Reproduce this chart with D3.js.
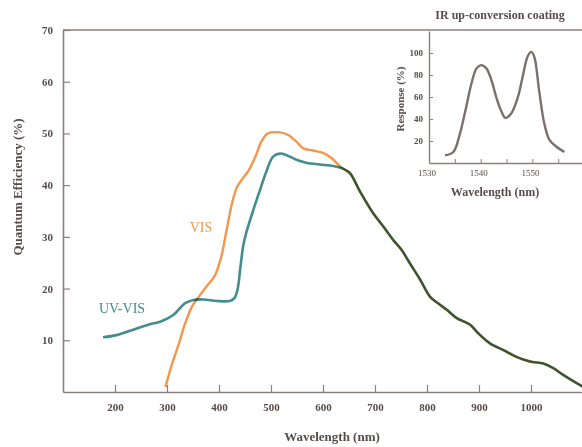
<!DOCTYPE html>
<html>
<head>
<meta charset="utf-8">
<script src="https://cdn.jsdelivr.net/npm/d3@7"></script>
<style>
  html, body { margin: 0; padding: 0; background: #fff; }
  svg { display: block; }
  text { font-family: "Liberation Serif", "DejaVu Serif", serif; fill: #564c4a; }
</style>
</head>
<body>
<svg id="chart" width="582" height="447"></svg>
<script>
// Quantum efficiency spectra (wavelength in nm, QE in %)
const uvvisWavelength = [177, 203, 242, 267, 287, 312, 335, 351, 370, 396, 421, 430, 436, 441, 447, 453, 466, 479, 492, 504, 517, 530, 549, 569, 594, 620, 636, 652, 671, 697, 716, 735, 751, 767, 787, 806, 822, 838, 857, 883, 899, 921, 947, 972, 998, 1024, 1043, 1062, 1088, 1100];
const uvvisQE = [10.6, 11.0, 12.3, 13.1, 13.6, 14.9, 17.2, 17.8, 17.9, 17.6, 17.6, 18.2, 20.0, 24.0, 28.5, 31.0, 35.2, 39.1, 42.9, 45.5, 46.1, 45.8, 44.9, 44.3, 44.0, 43.7, 43.3, 42.3, 38.8, 34.5, 32.0, 29.4, 27.5, 24.9, 21.7, 18.4, 17.1, 15.9, 14.3, 13.0, 11.3, 9.4, 8.1, 6.8, 5.9, 5.5, 4.6, 3.3, 1.7, 1.0];

const visWavelength = [297, 310, 323, 335, 348, 361, 376, 392, 404, 414, 424, 434, 445, 458, 470, 482, 494, 517, 533, 549, 562, 581, 601, 617, 633, 645, 652, 671, 697, 716, 735, 751, 767, 787, 806, 822, 838, 857, 883, 899, 921, 947, 972, 998, 1024, 1043, 1062, 1088, 1100];
const visQE = [1.0, 5.5, 9.4, 13.3, 16.5, 18.4, 20.4, 22.5, 26.0, 31.0, 36.0, 39.5, 41.2, 43.0, 45.5, 48.5, 50.0, 50.2, 49.7, 48.4, 47.1, 46.7, 46.2, 45.2, 43.6, 42.8, 42.3, 38.8, 34.5, 32.0, 29.4, 27.5, 24.9, 21.7, 18.4, 17.1, 15.9, 14.3, 13.0, 11.3, 9.4, 8.1, 6.8, 5.9, 5.5, 4.6, 3.3, 1.7, 1.0];

// IR up-conversion coating response (wavelength in nm, response in %)
const irWavelength = [1533.1, 1534.7, 1536.0, 1537.2, 1538.2, 1539.2, 1540.1, 1541.1, 1542.1, 1543.0, 1544.0, 1544.8, 1545.9, 1547.2, 1548.1, 1549.1, 1549.8, 1550.4, 1551.3, 1552.3, 1553.3, 1554.6, 1556.2];
const irResponse = [7, 10, 27, 51, 72, 86, 89, 86, 75, 60, 47, 41, 45, 60, 78, 97, 101, 96, 66, 36, 21, 15, 10];

// Tick values
const mainXTicks = [200, 300, 400, 500, 600, 700, 800, 900, 1000];
const mainYTicks = [10, 20, 30, 40, 50, 60, 70];
const insetXTicks = [1535, 1540, 1545, 1550, 1555];
const insetXLabels = [1530, 1540, 1550];
const insetYTicks = [20, 40, 60, 80, 100];

const axisColor = "#8c7f7c";
const tealColor = "#438d90";
const orangeColor = "#f2984c";

const svg = d3.select("#chart");

// ---------- main plot ----------
const x = d3.scaleLinear().domain([100, 1100]).range([63, 583]);
const y = d3.scaleLinear().domain([0, 70]).range([392, 30]);

const xAxis = svg.append("g")
  .attr("transform", `translate(0,${y(0)})`)
  .call(d3.axisBottom(x).tickValues(mainXTicks).tickFormat(d3.format("d"))
    .tickSize(-7).tickSizeOuter(0).tickPadding(11));
const yAxis = svg.append("g")
  .attr("transform", `translate(${x(100)},0)`)
  .call(d3.axisLeft(y).tickValues(mainYTicks).tickSize(-7).tickSizeOuter(0).tickPadding(10));

[xAxis, yAxis].forEach(g => {
  g.select(".domain").attr("stroke", axisColor).attr("stroke-width", 1.6);
  g.selectAll(".tick line").attr("stroke", axisColor).attr("stroke-width", 1.2);
  g.selectAll(".tick text")
    .attr("font-family", "Liberation Serif")
    .attr("font-size", 11)
    .attr("font-weight", "bold")
    .attr("fill", "#665c5a");
});

// top frame line
svg.append("line")
  .attr("x1", x(100)).attr("x2", 582)
  .attr("y1", y(70)).attr("y2", y(70))
  .attr("stroke", axisColor).attr("stroke-width", 1.6);

// axis titles
svg.append("text")
  .attr("x", 332).attr("y", 441)
  .attr("text-anchor", "middle")
  .attr("font-size", 13).attr("font-weight", "bold")
  .text("Wavelength (nm)");
svg.append("text")
  .attr("transform", "translate(22,187) rotate(-90)")
  .attr("text-anchor", "middle")
  .attr("font-size", 13).attr("font-weight", "bold")
  .text("Quantum Efficiency (%)");

const line = d3.line()
  .x(d => x(d[0]))
  .y(d => y(d[1]))
  .curve(d3.curveCatmullRom.alpha(0.5));

const uvvis = d3.zip(uvvisWavelength, uvvisQE);
const vis = d3.zip(visWavelength, visQE);

svg.append("path")
  .datum(uvvis)
  .attr("fill", "none")
  .attr("stroke", tealColor)
  .attr("stroke-width", 2.6)
  .attr("stroke-linejoin", "round")
  .attr("d", line);

// where the two spectra coincide the strokes overprint
svg.append("path")
  .datum(vis)
  .attr("fill", "none")
  .attr("stroke", orangeColor)
  .attr("stroke-width", 2.4)
  .attr("stroke-linejoin", "round")
  .style("mix-blend-mode", "multiply")
  .attr("d", line);

// series labels
svg.append("text")
  .attr("x", 122).attr("y", 313)
  .attr("text-anchor", "middle")
  .attr("font-size", 14)
  .style("fill", tealColor)
  .text("UV-VIS");
svg.append("text")
  .attr("x", 201).attr("y", 232)
  .attr("text-anchor", "middle")
  .attr("font-size", 14)
  .style("fill", orangeColor)
  .text("VIS");

// ---------- inset: IR up-conversion coating ----------
const ix = d3.scaleLinear().domain([1530, 1559.6]).range([429, 582]);
const iy = d3.scaleLinear().domain([0, 120]).range([163, 31]);

const ixAxis = svg.append("g")
  .attr("transform", `translate(0,${iy(0)})`)
  .call(d3.axisBottom(ix).tickValues(insetXTicks).tickSize(-4).tickSizeOuter(0).tickFormat(() => ""));
svg.append("g")
  .selectAll("text")
  .data(insetXLabels)
  .join("text")
  .attr("x", d => ix(d) - 2)
  .attr("y", iy(0) + 13)
  .attr("text-anchor", "middle")
  .attr("font-size", 9)
  .attr("fill", "#665c5a")
  .text(d => d);

const iyAxis = svg.append("g")
  .attr("transform", `translate(${ix(1530)},0)`)
  .call(d3.axisLeft(iy).tickValues(insetYTicks).tickSize(-4).tickSizeOuter(0).tickPadding(6));

[ixAxis, iyAxis].forEach(g => {
  g.select(".domain").attr("stroke", axisColor).attr("stroke-width", 1.4);
  g.selectAll(".tick line").attr("stroke", axisColor).attr("stroke-width", 1);
  g.selectAll(".tick text")
    .attr("font-family", "Liberation Serif")
    .attr("font-size", 9)
    .attr("font-weight", "bold")
    .attr("fill", "#665c5a");
});

svg.append("text")
  .attr("x", 500).attr("y", 19)
  .attr("text-anchor", "middle")
  .attr("font-size", 12).attr("font-weight", "bold")
  .text("IR up-conversion coating");
svg.append("text")
  .attr("x", 495).attr("y", 196)
  .attr("text-anchor", "middle")
  .attr("font-size", 12).attr("font-weight", "bold")
  .text("Wavelength (nm)");
svg.append("text")
  .attr("transform", "translate(404,99) rotate(-90)")
  .attr("text-anchor", "middle")
  .attr("font-size", 11).attr("font-weight", "bold")
  .text("Response (%)");

const iline = d3.line()
  .x(d => ix(d[0]))
  .y(d => iy(d[1]))
  .curve(d3.curveCatmullRom.alpha(0.5));

svg.append("path")
  .datum(d3.zip(irWavelength, irResponse))
  .attr("fill", "none")
  .attr("stroke", "#7b706e")
  .attr("stroke-width", 2.4)
  .attr("stroke-linejoin", "round")
  .attr("d", iline);
</script>
</body>
</html>
